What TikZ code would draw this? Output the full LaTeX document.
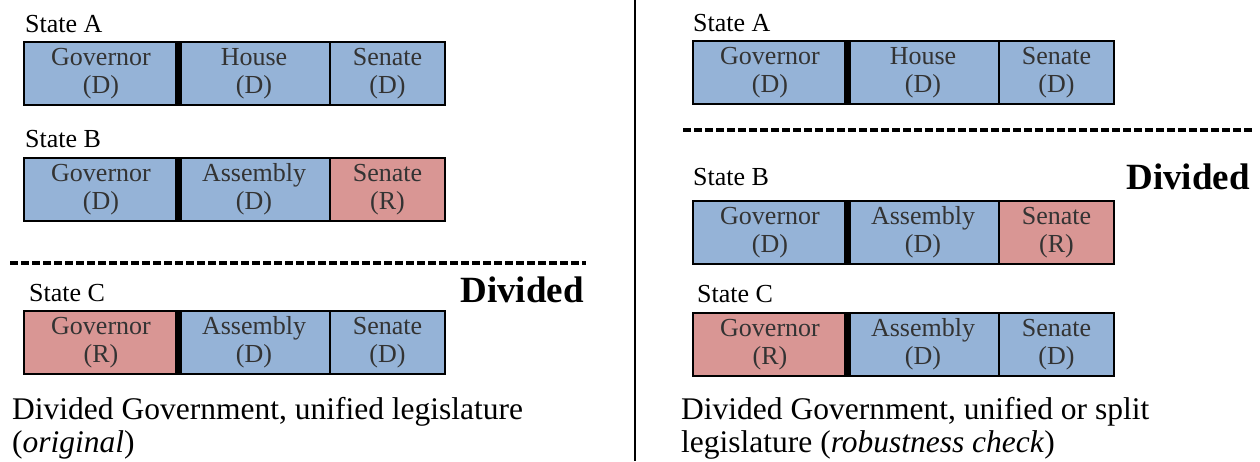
\documentclass[tikz,border=0pt]{standalone}
\usepackage{fontspec}
\setmainfont{Liberation Serif}
\usepackage{tikz}
\usetikzlibrary{positioning}
\usepackage{xcolor}
\definecolor{demblue}{RGB}{149,179,215}
\definecolor{repred}{RGB}{217,150,148}

\tikzset{
    cell/.style={draw=black, line width=1.3pt, minimum height=63pt, inner sep=0pt, outer sep=0pt,
        align=center, text=black!80, font=\fontsize{26}{28}\selectfont},
    dem/.style={cell, fill=demblue},
    rep/.style={cell, fill=repred},
    govcell/.style={minimum width=154pt},
    midcell/.style={minimum width=152pt},
    sencell/.style={minimum width=115pt},
    statelabel/.style={anchor=base west, inner sep=0pt, font=\fontsize{26}{30}\selectfont},
    divlabel/.style={anchor=base east, inner sep=0pt, font=\fontsize{37}{40}\selectfont\bfseries},
    caption/.style={anchor=base west, inner sep=0pt, font=\fontsize{31.5}{33}\selectfont},
    bar/.style={line width=7pt},
    splitline/.style={line width=3.5pt, dash pattern=on 8pt off 3pt}
}

\begin{document}
\begin{tikzpicture}[x=1pt, y=-1pt]
    \useasboundingbox (0,0) rectangle (1260,461);

    % Separator between the two panels
    \coordinate (septop) at (635,0);
    \coordinate (sepbot) at (635,461);
    \draw[line width=2pt] (septop) -- (sepbot);

    % ---- Left panel (original) ----
    % State A
    \node[statelabel] (lAlab) at (25,32) {State A};
    \node[dem, govcell, anchor=north west] (lAgov) at (24,42) {Governor\\(D)};
    \node[dem, midcell, right=0pt of lAgov] (lAmid) {House\\(D)};
    \node[dem, sencell, right=0pt of lAmid] (lAsen) {Senate\\(D)};
    \draw[bar] (lAgov.north east) -- (lAgov.south east);

    % State B
    \node[statelabel] (lBlab) at (25,147) {State B};
    \node[dem, govcell, anchor=north west] (lBgov) at (24,158) {Governor\\(D)};
    \node[dem, midcell, right=0pt of lBgov] (lBmid) {Assembly\\(D)};
    \node[rep, sencell, right=0pt of lBmid] (lBsen) {Senate\\(R)};
    \draw[bar] (lBgov.north east) -- (lBgov.south east);

    % Dashed split and label
    \coordinate (ldashL) at (10,263);
    \coordinate (ldashR) at (586,263);
    \draw[splitline] (ldashL) -- (ldashR);
    \node[divlabel] (ldiv) at (584,302) {Divided};

    % State C
    \node[statelabel] (lClab) at (29,301) {State C};
    \node[rep, govcell, anchor=north west] (lCgov) at (24,311) {Governor\\(R)};
    \node[dem, midcell, right=0pt of lCgov] (lCmid) {Assembly\\(D)};
    \node[dem, sencell, right=0pt of lCmid] (lCsen) {Senate\\(D)};
    \draw[bar] (lCgov.north east) -- (lCgov.south east);

    % Caption
    \node[caption] (lcap1) at (12,419) {Divided Government, unified legislature};
    \node[caption] (lcap2) at (12,452) {(\textit{original})};

    % ---- Right panel (robustness check) ----
    % State A
    \node[statelabel] (rAlab) at (693,31) {State A};
    \node[dem, govcell, anchor=north west] (rAgov) at (693,41) {Governor\\(D)};
    \node[dem, midcell, right=0pt of rAgov] (rAmid) {House\\(D)};
    \node[dem, sencell, right=0pt of rAmid] (rAsen) {Senate\\(D)};
    \draw[bar] (rAgov.north east) -- (rAgov.south east);

    % Dashed split and label
    \coordinate (rdashL) at (683,130);
    \coordinate (rdashR) at (1252,130);
    \draw[splitline] (rdashL) -- (rdashR);
    \node[divlabel] (rdiv) at (1250,189) {Divided};

    % State B
    \node[statelabel] (rBlab) at (693,185) {State B};
    \node[dem, govcell, anchor=north west] (rBgov) at (693,201) {Governor\\(D)};
    \node[dem, midcell, right=0pt of rBgov] (rBmid) {Assembly\\(D)};
    \node[rep, sencell, right=0pt of rBmid] (rBsen) {Senate\\(R)};
    \draw[bar] (rBgov.north east) -- (rBgov.south east);

    % State C
    \node[statelabel] (rClab) at (697,302) {State C};
    \node[rep, govcell, anchor=north west] (rCgov) at (693,313) {Governor\\(R)};
    \node[dem, midcell, right=0pt of rCgov] (rCmid) {Assembly\\(D)};
    \node[dem, sencell, right=0pt of rCmid] (rCsen) {Senate\\(D)};
    \draw[bar] (rCgov.north east) -- (rCgov.south east);

    % Caption
    \node[caption] (rcap1) at (681,419) {Divided Government, unified or split};
    \node[caption] (rcap2) at (681,452) {legislature (\textit{robustness check})};
\end{tikzpicture}
\end{document}
